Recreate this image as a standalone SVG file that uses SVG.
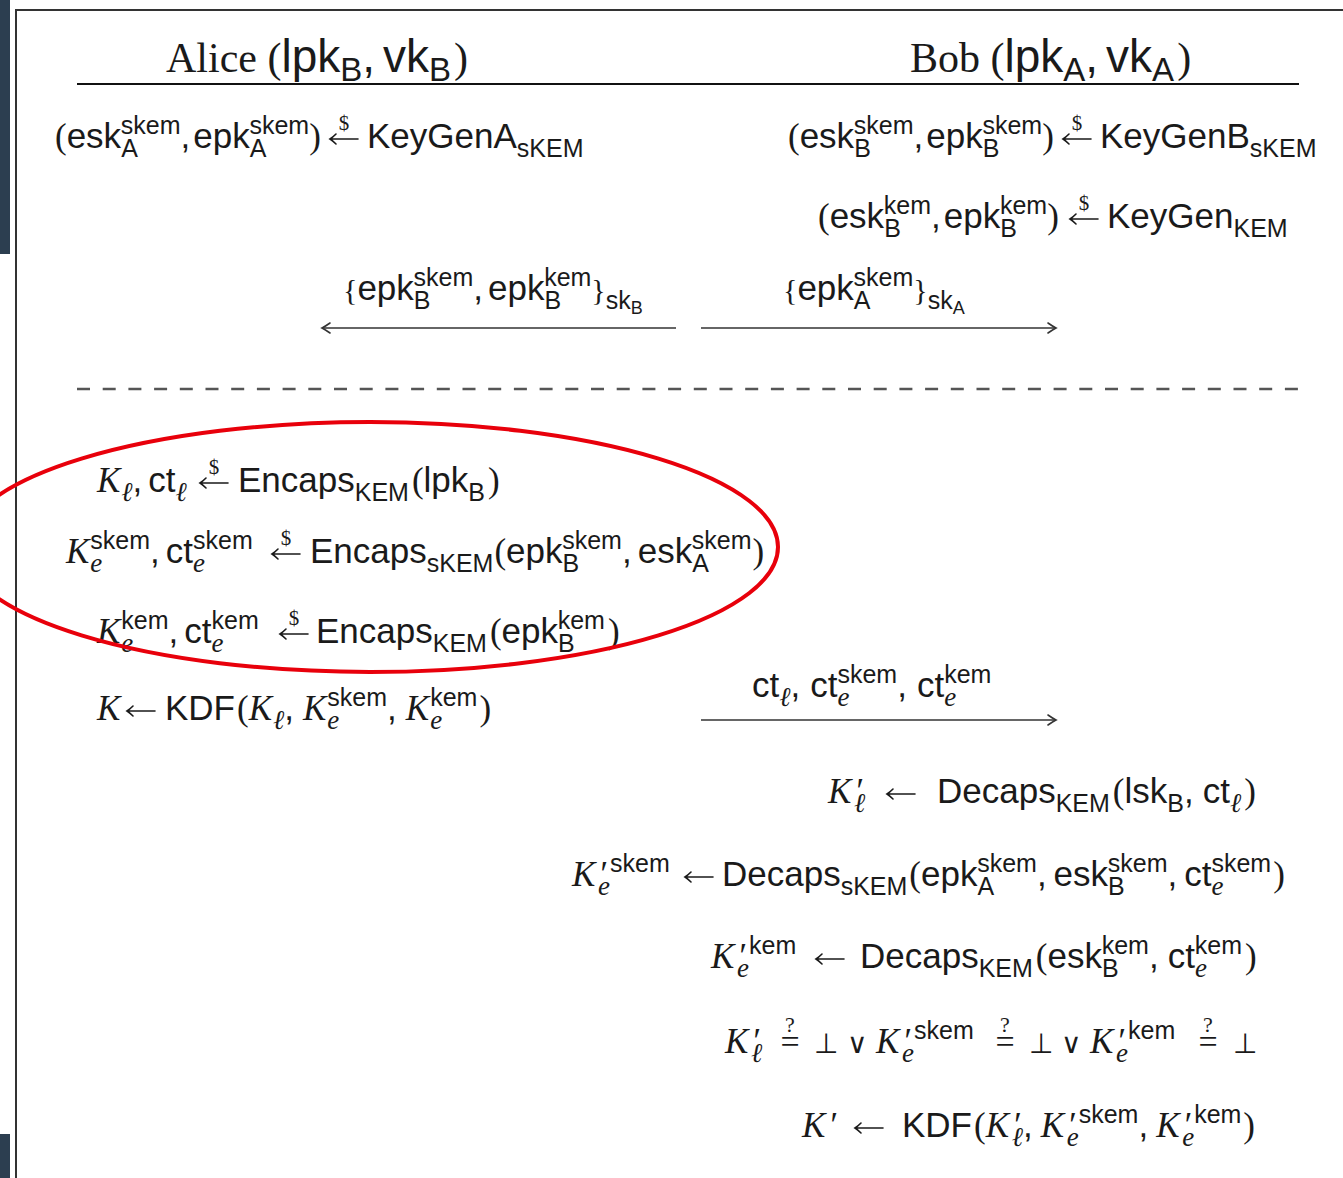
<svg xmlns="http://www.w3.org/2000/svg" xmlns:xlink="http://www.w3.org/1999/xlink" width="1343" height="1178" viewBox="0 0 1343 1178">
<style>
  .t{font-family:"Liberation Sans",Arial,sans-serif;font-size:35px;fill:#1a1a1a}
  .hd{font-size:46px}
  .rm{font-family:"Liberation Serif","Times New Roman",serif;font-size:42px}
  .s{font-size:25px}
  .e{font-size:27px}
  .s2{font-size:33px}
  .ss{font-size:18px}
  .p{font-family:"Liberation Serif",serif;font-size:35px}
  .br{font-family:"Liberation Serif",serif;font-size:30px}
  .it{font-family:"Liberation Serif","DejaVu Serif",serif;font-style:italic}
  .sym{font-family:"DejaVu Sans",sans-serif;font-size:28px;fill:#1a1a1a}
  .ar{fill:none;stroke:#1a1a1a;stroke-width:1.6;stroke-linecap:round}
  .msg{fill:none;stroke:#333;stroke-width:1.6}
</style>
<defs>
  <!-- short left arrow (assignment) -->
  <g id="la">
    <path class="ar" d="M0,0 H28 M6,-5 Q2.5,-1.5 0,0 Q2.5,1.5 6,5"/>
  </g>
  <!-- random sampling arrow: left arrow with $ above -->
  <g id="gets">
    <use xlink:href="#la"/>
    <text x="14" y="-9" text-anchor="middle" style="font-family:'Liberation Serif',serif;font-size:21px;fill:#1a1a1a">$</text>
  </g>
  <!-- equality test -->
  <g id="qeq">
    <text x="10" y="0" text-anchor="middle" style="font-family:'Liberation Serif',serif;font-size:34px;fill:#1a1a1a">=</text>
    <text x="10" y="-21" text-anchor="middle" style="font-family:'Liberation Serif',serif;font-size:22px;fill:#1a1a1a">?</text>
  </g>
  <marker id="hd" viewBox="-11 -7 13 14" refX="0" refY="0" markerWidth="13" markerHeight="14" markerUnits="userSpaceOnUse" orient="auto-start-reverse">
    <path d="M-8,-5 Q-3,-1.5 0,0 Q-3,1.5 -8,5" fill="none" stroke="#333" stroke-width="1.6" stroke-linecap="round"/>
  </marker>
</defs>

<rect width="1343" height="1178" fill="#fff"/>

<!-- frame -->
<g id="frame">
  <rect x="0" y="0" width="10" height="254" fill="#2c3e50"/>
  <rect x="0" y="1134" width="10" height="44" fill="#2c3e50"/>
  <path d="M16,1178 V10 H1343" fill="none" stroke="#333" stroke-width="2"/>
  <line x1="77" y1="84" x2="1299" y2="84" stroke="#111" stroke-width="2"/>
  <line x1="77" y1="389" x2="1300" y2="389" stroke="#555" stroke-width="2.5" stroke-dasharray="13 12.7"/>
</g>

<!-- parties -->
<g id="alice">
  <text class="t hd" x="166" y="72"><tspan class="rm">Alice (</tspan>lpk<tspan class="s2" dy="9">B</tspan><tspan dy="-9" dx="0 8">,vk</tspan><tspan class="s2" dy="9">B</tspan><tspan class="rm" dy="-9" dx="3">)</tspan></text>
</g>
<g id="bob">
  <text class="t hd" x="910" y="72"><tspan class="rm">Bob (</tspan>lpk<tspan class="s2" dy="9">A</tspan><tspan dy="-9" dx="0 8">,vk</tspan><tspan class="s2" dy="9">A</tspan><tspan class="rm" dy="-9" dx="3">)</tspan></text>
</g>

<!-- key generation -->
<g id="keygen-a">
  <text class="t" x="55" y="148"><tspan class="p">(</tspan>esk<tspan class="s" dy="9">A</tspan><tspan class="s" dx="-17" dy="-23">skem</tspan><tspan dy="14" dx="0 3">,epk</tspan><tspan class="s" dy="9">A</tspan><tspan class="s" dx="-17" dy="-23">skem</tspan><tspan class="p" dy="14">)</tspan></text>
  <use xlink:href="#gets" x="330" y="139"/>
  <text class="t" x="367" y="148">KeyGenA<tspan class="s" dy="9">sKEM</tspan></text>
</g>
<g id="keygen-b-skem">
  <text class="t" x="788" y="148"><tspan class="p">(</tspan>esk<tspan class="s" dy="9">B</tspan><tspan class="s" dx="-17" dy="-23">skem</tspan><tspan dy="14" dx="0 3">,epk</tspan><tspan class="s" dy="9">B</tspan><tspan class="s" dx="-17" dy="-23">skem</tspan><tspan class="p" dy="14">)</tspan></text>
  <use xlink:href="#gets" x="1063" y="139"/>
  <text class="t" x="1100" y="148">KeyGenB<tspan class="s" dy="9">sKEM</tspan></text>
</g>
<g id="keygen-b-kem">
  <text class="t" x="818" y="228"><tspan class="p">(</tspan>esk<tspan class="s" dy="9">B</tspan><tspan class="s" dx="-17" dy="-23">kem</tspan><tspan dy="14" dx="0 3">,epk</tspan><tspan class="s" dy="9">B</tspan><tspan class="s" dx="-17" dy="-23">kem</tspan><tspan class="p" dy="14">)</tspan></text>
  <use xlink:href="#gets" x="1070" y="219"/>
  <text class="t" x="1107" y="228">KeyGen<tspan class="s" dy="9">KEM</tspan></text>
</g>

<!-- signed ephemeral keys -->
<g id="msg-b">
  <text class="t" x="343" y="300"><tspan class="br">{</tspan>epk<tspan class="s" dy="9">B</tspan><tspan class="s" dx="-17" dy="-23">skem</tspan><tspan dy="14" dx="0 5">,epk</tspan><tspan class="s" dy="9">B</tspan><tspan class="s" dx="-17" dy="-23">kem</tspan><tspan class="br" dy="14">}</tspan><tspan class="s" dy="9">sk</tspan><tspan class="ss" dy="5">B</tspan></text>
</g>
<g id="msg-a">
  <text class="t" x="783" y="300"><tspan class="br">{</tspan>epk<tspan class="s" dy="9">A</tspan><tspan class="s" dx="-17" dy="-23">skem</tspan><tspan class="br" dy="14">}</tspan><tspan class="s" dy="9">sk</tspan><tspan class="ss" dy="5">A</tspan></text>
</g>

<!-- encapsulation (Alice) -->
<g id="encaps-l">
  <text class="t" x="97" y="492"><tspan class="it">K</tspan><tspan class="it e" dx="1" dy="9">ℓ</tspan><tspan dy="-9" dx="0 6">,ct</tspan><tspan class="it e" dy="9">ℓ</tspan></text>
  <use xlink:href="#gets" x="200" y="483"/>
  <text class="t" x="238" y="492">Encaps<tspan class="s" dy="9">KEM</tspan><tspan class="p" dy="-9" dx="3">(</tspan>lpk<tspan class="s" dy="9">B</tspan><tspan class="p" dy="-9" dx="3">)</tspan></text>
</g>
<g id="encaps-skem">
  <text class="t" x="66" y="563"><tspan class="it">K</tspan><tspan class="it e" dx="1" dy="9">e</tspan><tspan class="s" dx="-12" dy="-23">skem</tspan><tspan dy="14" dx="0 6">,ct</tspan><tspan class="it e" dy="9">e</tspan><tspan class="s" dx="-12" dy="-23">skem</tspan></text>
  <use xlink:href="#gets" x="272" y="554"/>
  <text class="t" x="310" y="563">Encaps<tspan class="s" dy="9">sKEM</tspan><tspan class="p" dy="-9" dx="1">(</tspan>epk<tspan class="s" dy="9">B</tspan><tspan class="s" dx="-17" dy="-23">skem</tspan><tspan dy="14" dx="0 6">,esk</tspan><tspan class="s" dy="9">A</tspan><tspan class="s" dx="-17" dy="-23">skem</tspan><tspan class="p" dy="14" dx="1">)</tspan></text>
</g>
<g id="encaps-kem">
  <text class="t" x="97" y="643"><tspan class="it">K</tspan><tspan class="it e" dx="1" dy="9">e</tspan><tspan class="s" dx="-12" dy="-23">kem</tspan><tspan dy="14" dx="0 6">,ct</tspan><tspan class="it e" dy="9">e</tspan><tspan class="s" dx="-12" dy="-23">kem</tspan></text>
  <use xlink:href="#gets" x="280" y="634"/>
  <text class="t" x="316" y="643">Encaps<tspan class="s" dy="9">KEM</tspan><tspan class="p" dy="-9" dx="3">(</tspan>epk<tspan class="s" dy="9">B</tspan><tspan class="s" dx="-17" dy="-23">kem</tspan><tspan class="p" dy="14" dx="3">)</tspan></text>
</g>
<g id="kdf-a">
  <text class="t" x="97" y="720"><tspan class="it">K</tspan></text>
  <use xlink:href="#la" x="127" y="711"/>
  <text class="t" x="165" y="720">KDF<tspan class="p" dx="2">(</tspan><tspan class="it">K</tspan><tspan class="it e" dx="1" dy="9">ℓ</tspan><tspan dy="-9">,</tspan><tspan class="it" dx="9">K</tspan><tspan class="it e" dx="1" dy="9">e</tspan><tspan class="s" dx="-12" dy="-23">skem</tspan><tspan dy="14">,</tspan><tspan class="it" dx="9">K</tspan><tspan class="it e" dx="1" dy="9">e</tspan><tspan class="s" dx="-12" dy="-23">kem</tspan><tspan class="p" dy="14" dx="2">)</tspan></text>
</g>

<!-- ciphertexts -->
<g id="msg-ct">
  <text class="t" x="752" y="697">ct<tspan class="it e" dy="9">ℓ</tspan><tspan dy="-9" dx="0 10">,ct</tspan><tspan class="it e" dy="9">e</tspan><tspan class="s" dx="-12" dy="-23">skem</tspan><tspan dy="14" dx="0 10">,ct</tspan><tspan class="it e" dy="9">e</tspan><tspan class="s" dx="-12" dy="-23">kem</tspan></text>
</g>

<!-- decapsulation (Bob) -->
<g id="decaps-l">
  <text class="t" x="828" y="803"><tspan class="it">K</tspan><tspan class="it" dx="3">′</tspan><tspan class="it e" dx="-8" dy="9">ℓ</tspan></text>
  <use xlink:href="#la" x="887" y="794"/>
  <text class="t" x="937" y="803">Decaps<tspan class="s" dy="9">KEM</tspan><tspan class="p" dy="-9" dx="3">(</tspan>lsk<tspan class="s" dy="9">B</tspan><tspan dy="-9" dx="0 9">,ct</tspan><tspan class="it e" dy="9">ℓ</tspan><tspan class="p" dy="-9" dx="3">)</tspan></text>
</g>
<g id="decaps-skem">
  <text class="t" x="572" y="886"><tspan class="it">K</tspan><tspan class="it" dx="3">′</tspan><tspan class="it e" dx="-8" dy="9">e</tspan><tspan class="s" dy="-23">skem</tspan></text>
  <use xlink:href="#la" x="685" y="877"/>
  <text class="t" x="722" y="886">Decaps<tspan class="s" dy="9">sKEM</tspan><tspan class="p" dy="-9" dx="2">(</tspan>epk<tspan class="s" dy="9">A</tspan><tspan class="s" dx="-17" dy="-23">skem</tspan><tspan dy="14" dx="0 7">,esk</tspan><tspan class="s" dy="9">B</tspan><tspan class="s" dx="-17" dy="-23">skem</tspan><tspan dy="14" dx="0 7">,ct</tspan><tspan class="it e" dy="9">e</tspan><tspan class="s" dx="-12" dy="-23">skem</tspan><tspan class="p" dy="14" dx="2">)</tspan></text>
</g>
<g id="decaps-kem">
  <text class="t" x="711" y="968"><tspan class="it">K</tspan><tspan class="it" dx="3">′</tspan><tspan class="it e" dx="-8" dy="9">e</tspan><tspan class="s" dy="-23">kem</tspan></text>
  <use xlink:href="#la" x="816" y="959"/>
  <text class="t" x="860" y="968">Decaps<tspan class="s" dy="9">KEM</tspan><tspan class="p" dy="-9" dx="3">(</tspan>esk<tspan class="s" dy="9">B</tspan><tspan class="s" dx="-17" dy="-23">kem</tspan><tspan dy="14" dx="0 9">,ct</tspan><tspan class="it e" dy="9">e</tspan><tspan class="s" dx="-12" dy="-23">kem</tspan><tspan class="p" dy="14" dx="3">)</tspan></text>
</g>
<g id="check">
  <text class="t" x="725" y="1053"><tspan class="it">K</tspan><tspan class="it" dx="3">′</tspan><tspan class="it e" dx="-8" dy="9">ℓ</tspan></text>
  <use xlink:href="#qeq" x="780" y="1053"/>
  <text class="sym" x="814" y="1053">⊥</text>
  <text class="sym" x="847" y="1053">∨</text>
  <text class="t" x="876" y="1053"><tspan class="it">K</tspan><tspan class="it" dx="3">′</tspan><tspan class="it e" dx="-8" dy="9">e</tspan><tspan class="s" dy="-23">skem</tspan></text>
  <use xlink:href="#qeq" x="995" y="1053"/>
  <text class="sym" x="1029" y="1053">⊥</text>
  <text class="sym" x="1061" y="1053">∨</text>
  <text class="t" x="1090" y="1053"><tspan class="it">K</tspan><tspan class="it" dx="3">′</tspan><tspan class="it e" dx="-8" dy="9">e</tspan><tspan class="s" dy="-23">kem</tspan></text>
  <use xlink:href="#qeq" x="1198" y="1053"/>
  <text class="sym" x="1233" y="1053">⊥</text>
</g>
<g id="kdf-b">
  <text class="t" x="802" y="1137"><tspan class="it">K</tspan><tspan class="it" dx="3">′</tspan></text>
  <use xlink:href="#la" x="855" y="1128"/>
  <text class="t" x="902" y="1137">KDF<tspan class="p" dx="2">(</tspan><tspan class="it">K</tspan><tspan class="it" dx="3">′</tspan><tspan class="it e" dx="-8" dy="9">ℓ</tspan><tspan dy="-9">,</tspan><tspan class="it" dx="8">K</tspan><tspan class="it" dx="3">′</tspan><tspan class="it e" dx="-8" dy="9">e</tspan><tspan class="s" dy="-23">skem</tspan><tspan dy="14">,</tspan><tspan class="it" dx="8">K</tspan><tspan class="it" dx="3">′</tspan><tspan class="it e" dx="-8" dy="9">e</tspan><tspan class="s" dy="-23">kem</tspan><tspan class="p" dy="14" dx="2">)</tspan></text>
</g>

<!-- message arrows -->
<g id="connectors">
  <line class="msg" x1="676" y1="328" x2="322" y2="328" marker-end="url(#hd)"/>
  <line class="msg" x1="701" y1="328" x2="1056" y2="328" marker-end="url(#hd)"/>
  <line class="msg" x1="701" y1="720" x2="1056" y2="720" marker-end="url(#hd)"/>
</g>

<!-- highlight around Alice's encapsulations -->
<ellipse cx="370" cy="547" rx="408" ry="125" fill="none" stroke="#e8000b" stroke-width="4"/>
</svg>
